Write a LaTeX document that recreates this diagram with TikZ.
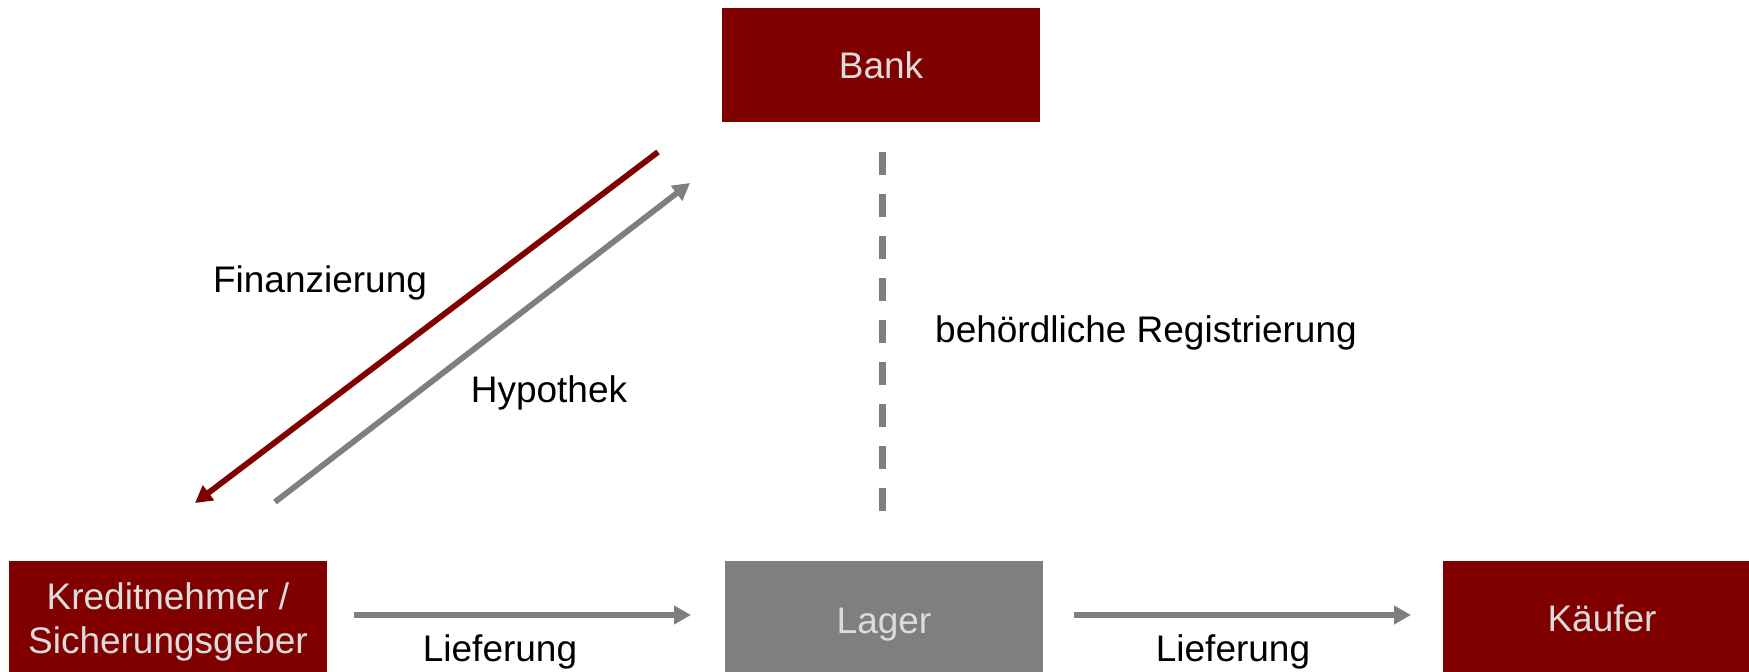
\documentclass[tikz,border=0pt]{standalone}
\usepackage{fontspec}
\setmainfont{Liberation Sans}
\usetikzlibrary{arrows.meta}
\definecolor{dred}{HTML}{800000}
\definecolor{dgray}{HTML}{7F7F7F}
\definecolor{lgray}{HTML}{DCDCDC}
\tikzset{
  box/.style={fill=#1, draw=none, minimum width=159pt, minimum height=57pt, inner sep=0pt,
    text=lgray, align=center, font=\fontsize{18.5pt}{22pt}\selectfont},
  boxtext/.style={text=lgray, inner sep=0pt, align=center, font=\fontsize{18.5pt}{22pt}\selectfont},
  lbl/.style={text=black, inner sep=0pt, font=\fontsize{18.5pt}{22pt}\selectfont},
  grayarrow/.style={draw=dgray, line width=2.9pt, -{Triangle[length=8.5pt,width=9pt]}},
  redarrow/.style={draw=dred, line width=2.9pt, -{Triangle[length=8.5pt,width=9pt]}},
}
\begin{document}
\begin{tikzpicture}[x=0.5pt,y=-0.5pt]
\useasboundingbox (0,0) rectangle (1749,671);
\clip (0,0) rectangle (1749,671);
\node[box=dred] (bank) at (881,65) {Bank};
\node[box=dred] (kred) at (168,618) {};
\node[boxtext] (kredtxt) at (168,622) {Kreditnehmer /\\Sicherungsgeber};
\node[box=dgray] (lager) at (884,618) {};
\node[boxtext] (lagertxt) at (884,625) {Lager};
\node[box=dred] (kaeufer) at (1602,618) {Käufer};

\coordinate (finS) at (658,152);
\coordinate (finE) at (195,503);
\coordinate (hypS) at (275,502);
\coordinate (hypE) at (690,183);
\coordinate (dashS) at (882,152);
\coordinate (dashE) at (882,511);
\coordinate (l1S) at (354,615);
\coordinate (l1E) at (691,615);
\coordinate (l2S) at (1074,615);
\coordinate (l2E) at (1411,615);

\draw[redarrow] (finS) -- (finE);
\draw[grayarrow] (hypS) -- (hypE);
\draw[draw=dgray, line width=3.5pt, dash pattern=on 11.5pt off 9.5pt] (dashS) -- (dashE);
\draw[grayarrow] (l1S) -- (l1E);
\draw[grayarrow] (l2S) -- (l2E);

\node[lbl] (fin) at (320,283) {Finanzierung};
\node[lbl] (hyp) at (549,393) {Hypothek};
\node[lbl] (reg) at (1146,333) {behördliche Registrierung};
\node[lbl] (lf1) at (500,652) {Lieferung};
\node[lbl] (lf2) at (1233,652) {Lieferung};
\end{tikzpicture}
\end{document}
